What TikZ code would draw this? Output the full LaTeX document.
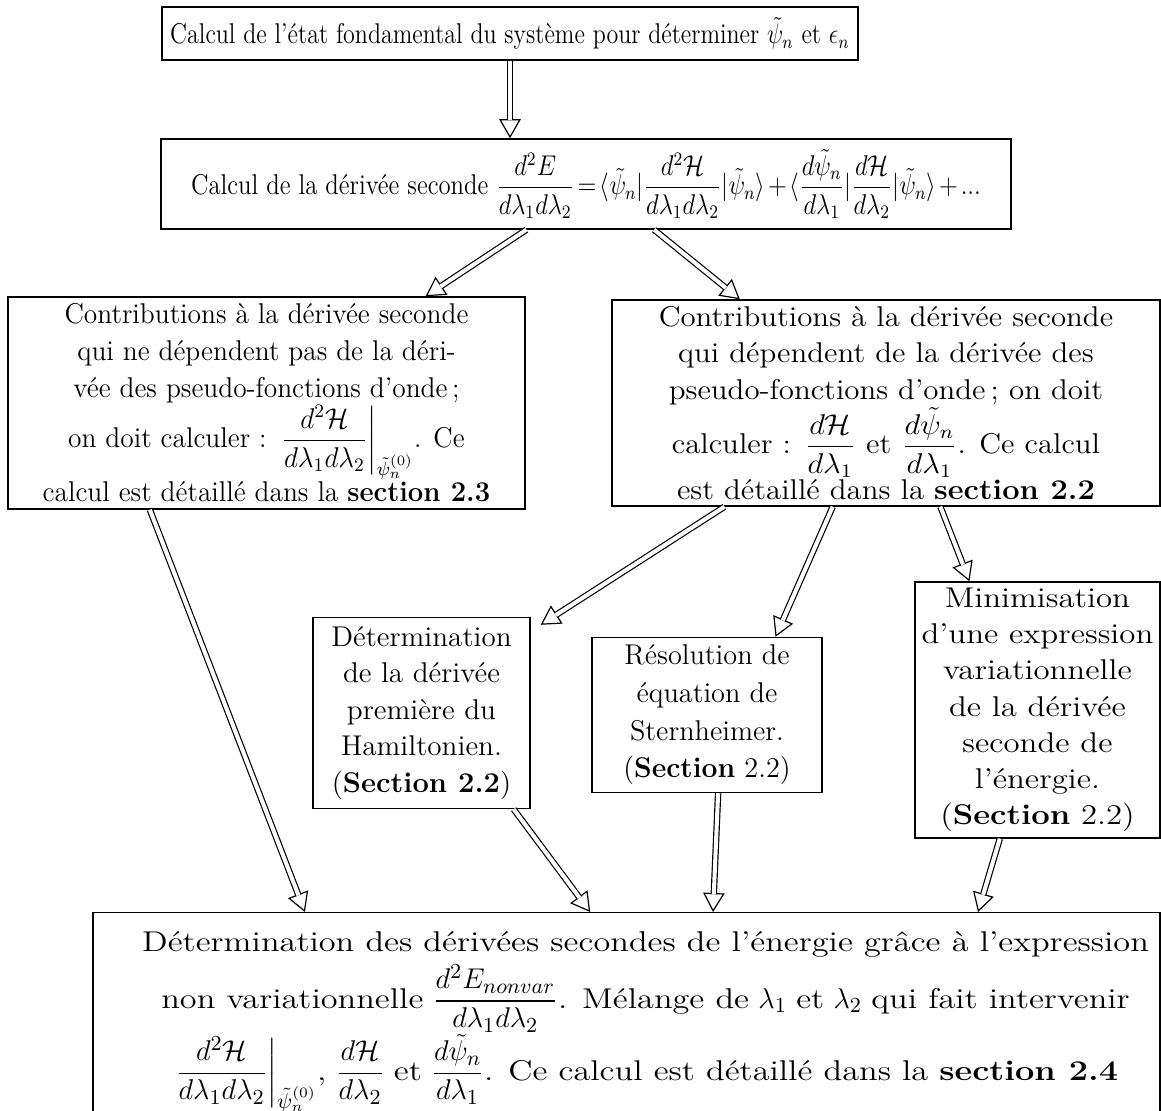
\documentclass[tikz,border=0pt]{standalone}
\usepackage{amsmath}
\usepackage{graphicx}
\usetikzlibrary{arrows.meta,calc}
\def\pxu{0.42pt}
\newcommand\sx[2]{\scalebox{#1}[1]{#2}}
\newcommand\hm[1]{{\fontsize{12.4}{15}\selectfont$\displaystyle #1$}}
\newcommand\hh[1]{\scalebox{1.2}[1]{#1}}
\tikzset{
  box/.style={draw, line width=0.6pt, align=center, inner sep=2pt,
    font=\fontsize{12}{15.5}\selectfont},
  tipline/.style={draw=white, line width=0.3pt,
    -{Triangle[open,length=8pt,width=9pt,color=black,line width=0.5pt]}},
  shaft/.style={draw=black, double=white, double distance=1.7pt, line width=0.5pt, shorten >=7.5pt}
}
\newcommand\dblarrow[2]{\draw[tipline] #1 -- #2; \draw[shaft] #1 -- #2;}
\begin{document}
\begin{tikzpicture}[x=0.42pt,y=-0.42pt]
\clip (0,0) rectangle (1161,1110);
\useasboundingbox (0,0) rectangle (1161,1110);
% A
\node[box, minimum width=696*\pxu, minimum height=53*\pxu] (A) at (510,33.5)
  {\sx{0.84}{Calcul de l'état fondamental du système pour déterminer $\tilde{\psi}_n$ et $\epsilon_n$}};
% B
\node[box, minimum width=850*\pxu, minimum height=90*\pxu] (B) at (586,184)
  {\sx{0.865}{\thickmuskip=2.5mu\medmuskip=2mu
   Calcul de la dérivée seconde $\dfrac{d^2E}{d\lambda_1 d\lambda_2}=\langle\tilde{\psi}_n|\dfrac{d^2\mathcal{H}}{d\lambda_1 d\lambda_2}|\tilde{\psi}_n\rangle+\langle\dfrac{d\tilde{\psi}_n}{d\lambda_1}|\dfrac{d\mathcal{H}}{d\lambda_2}|\tilde{\psi}_n\rangle+{...}$}};
% C
\node[box, minimum width=517*\pxu, minimum height=212*\pxu] (C) at (266.5,403)
  {\sx{0.96}{Contributions à la dérivée seconde}\\
   \sx{0.96}{qui ne dépendent pas de la déri-}\\
   \sx{0.96}{vée des pseudo-fonctions d'onde\,;}\\
   \sx{0.96}{on doit calculer : $\left.\dfrac{d^2\mathcal{H}}{d\lambda_1 d\lambda_2}\right|_{\tilde{\psi}_n^{(0)}}$. Ce}\\
   \sx{0.96}{calcul est détaillé dans la \textbf{section 2.3}}};
% D
\node[box, minimum width=548*\pxu, minimum height=206*\pxu] (D) at (886,403)
  {\sx{1.08}{Contributions à la dérivée seconde}\\
   \sx{1.08}{qui dépendent de la dérivée des}\\
   \sx{1.08}{pseudo-fonctions d'onde\,; on doit}\\
   \sx{1.08}{calculer : $\dfrac{d\mathcal{H}}{d\lambda_1}$ et $\dfrac{d\tilde{\psi}_n}{d\lambda_1}$. Ce calcul}\\
   \sx{1.08}{est détaillé dans la \textbf{section 2.2}}};
% E
\node[box, font=\fontsize{12}{15.3}\selectfont, minimum width=217*\pxu, minimum height=191*\pxu] (E) at (421.5,713)
  {\sx{1.02}{Détermination}\\ \sx{1.02}{de la dérivée}\\ \sx{1.02}{première du}\\ \sx{1.02}{Hamiltonien.}\\ \sx{1.02}{(\textbf{Section 2.2})}};
% F
\node[box, font=\fontsize{12}{15.8}\selectfont, minimum width=230*\pxu, minimum height=155*\pxu] (F) at (707,715)
  {\sx{0.99}{Résolution de}\\ \sx{0.99}{équation de}\\ \sx{0.99}{Sternheimer.}\\ \sx{0.99}{(\textbf{Section} 2.2)}};
% G
\node[box, font=\fontsize{12}{15.2}\selectfont, minimum width=245*\pxu, minimum height=256*\pxu] (G) at (1037.5,710)
  {\sx{1.15}{Minimisation}\\ \sx{1.15}{d'une expression}\\ \sx{1.15}{variationnelle}\\ \sx{1.15}{de la dérivée}\\ \sx{1.15}{seconde de}\\ \sx{1.15}{l'énergie.}\\ \sx{1.15}{(\textbf{Section} 2.2)}};
% H
\node[box, anchor=north, inner ysep=8pt, minimum width=1067*\pxu] (H) at (626.5,912)
  {\hspace*{16pt}\hh{Détermination des dérivées secondes de l'énergie grâce à l'expression}\\[2pt]
   \hspace*{16pt}\hh{non variationnelle} \hm{\frac{d^2E_{nonvar}}{d\lambda_1 d\lambda_2}}\hh{. Mélange de} \hm{\lambda_1} \hh{et} \hm{\lambda_2} \hh{qui fait intervenir}\\[0pt]
   \hspace*{16pt}\hm{\left.\frac{d^2\mathcal{H}}{d\lambda_1 d\lambda_2}\right|_{\tilde{\psi}_n^{(0)}}}\hh{,} \hm{\frac{d\mathcal{H}}{d\lambda_2}} \hh{et} \hm{\frac{d\tilde{\psi}_n}{d\lambda_1}}\hh{. Ce calcul est détaillé dans la \textbf{section 2.4}}};
% arrows
\dblarrow{(A.south)}{(A.south |- B.north)}
\dblarrow{($(B.south west)!0.43!(B.south east)$)}{($(C.north west)!0.807!(C.north east)$)}
\dblarrow{($(B.south west)!0.58!(B.south east)$)}{($(D.north west)!0.234!(D.north east)$)}
\dblarrow{($(D.south west)!0.206!(D.south east)$)}{($(E.north east)+(10,8)$)}
\dblarrow{($(D.south west)!0.403!(D.south east)$)}{($(F.north west)!0.796!(F.north east)$)}
\dblarrow{($(D.south west)!0.599!(D.south east)$)}{($(G.north west)!0.224!(G.north east)$)}
\dblarrow{($(C.south west)!0.275!(C.south east)$)}{($(H.north west)!0.199!(H.north east)$)}
\dblarrow{($(E.south west)!0.922!(E.south east)$)}{($(H.north west)!0.466!(H.north east)$)}
\dblarrow{($(F.south west)!0.548!(F.south east)$)}{($(H.north west)!0.581!(H.north east)$)}
\dblarrow{($(G.south west)!0.347!(G.south east)$)}{($(H.north west)!0.829!(H.north east)$)}
\end{tikzpicture}
\end{document}
